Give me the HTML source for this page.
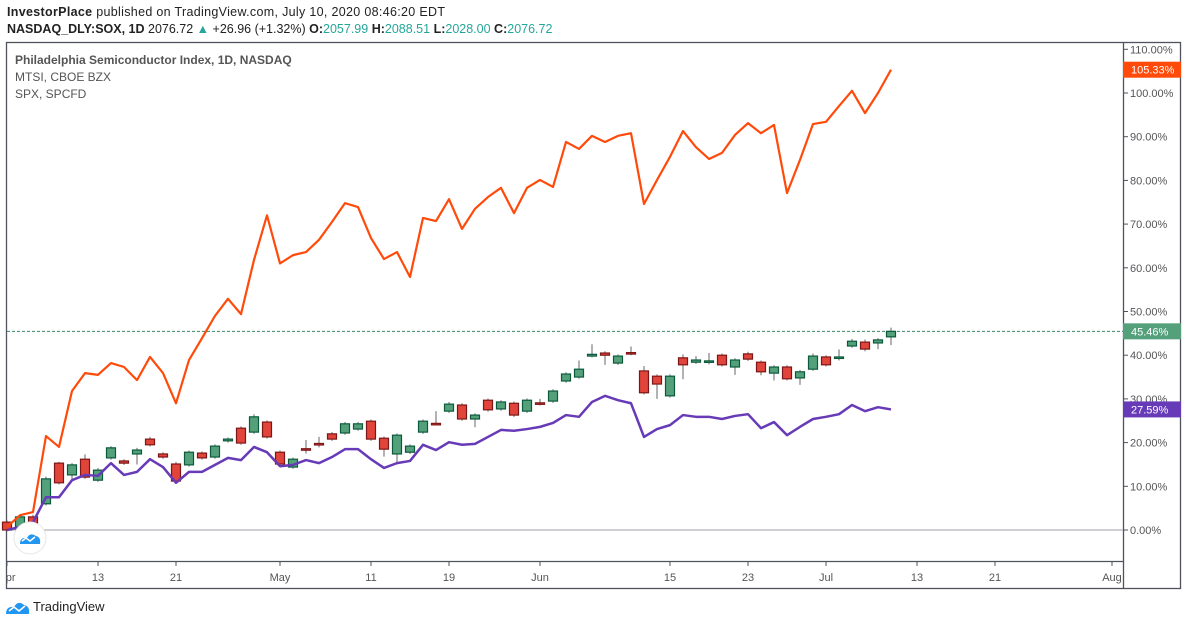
<!DOCTYPE html>
<html><head><meta charset="utf-8">
<style>
body{margin:0;background:#fff;width:1188px;height:625px;overflow:hidden;font-family:"Liberation Sans",sans-serif}
svg text{font-family:"Liberation Sans",sans-serif}
</style></head>
<body>
<svg id="chart" width="1188" height="625" xmlns="http://www.w3.org/2000/svg">
  <defs><clipPath id="xclip"><rect x="7" y="560" width="1116" height="28"/></clipPath></defs>
  <text x="7" y="16" font-size="12.5" fill="#222" textLength="438"><tspan font-weight="bold">InvestorPlace</tspan> published on TradingView.com, July 10, 2020 08:46:20 EDT</text>
  <text x="7" y="33" font-size="12.5" fill="#222"><tspan font-weight="bold">NASDAQ_DLY:SOX, 1D</tspan> 2076.72 <tspan fill="#26a69a">▲</tspan> +26.96 (+1.32%) <tspan font-weight="bold">O:</tspan><tspan fill="#26a69a">2057.99</tspan> <tspan font-weight="bold">H:</tspan><tspan fill="#26a69a">2088.51</tspan> <tspan font-weight="bold">L:</tspan><tspan fill="#26a69a">2028.00</tspan> <tspan font-weight="bold">C:</tspan><tspan fill="#26a69a">2076.72</tspan></text>
  <rect x="6.5" y="42.5" width="1174" height="546" fill="none" stroke="#50535e" stroke-width="1.3"/>
  <line x1="1123.5" y1="42" x2="1123.5" y2="589" stroke="#50535e" stroke-width="1.3"/>
  <line x1="6" y1="561.5" x2="1123" y2="561.5" stroke="#50535e" stroke-width="1.3"/>
  <g id="plot"></g>
  <g id="axes"></g>
  <g id="xaxis" clip-path="url(#xclip)"></g>
  <text x="15" y="64" font-size="12" font-weight="bold" fill="#555">Philadelphia Semiconductor Index, 1D, NASDAQ</text>
  <text x="15" y="81" font-size="12" fill="#555">MTSI, CBOE BZX</text>
  <text x="15" y="98" font-size="12" fill="#555">SPX, SPCFD</text>
  <g>
    <circle cx="30" cy="538" r="16" fill="#fff" stroke="#e6e6e6"/>
    <path d="M20 544 q0-7 7-6 q3-6 9-2 q5 1 4 8 z" fill="#2196f3"/>
    <path d="M22 541 l4-3 l4 3 l5-4" fill="none" stroke="#fff" stroke-width="1.5"/>
  </g>
  <g>
    <path d="M6 614 q0-8 8-7 q4-7 10-2 q6 1 5 9 z" fill="#2196f3"/>
    <path d="M9 611 l5-4 l5 4 l6-5" fill="none" stroke="#fff" stroke-width="1.6"/>
    <text x="33" y="611" font-size="13" fill="#222">TradingView</text>
  </g>
</svg>
<script>
const sox_open  = [1.8,0.2,3,6,15.3,12.6,16.2,11.4,16.5,15.8,17.4,20.8,17.4,15.1,14.9,17.6,16.7,20.4,23.3,22.4,24.7,17.8,14.4,18.6,19.8,22,22.2,23.1,24.9,21,17.4,17.8,22.4,24.4,27.2,28.6,25.4,29.7,27.7,29,27.2,29.1,29.5,34.1,35,39.8,40.5,38.2,40.6,36.4,35.2,30.7,39.4,38.4,38.6,40,37.3,40.3,38.4,35.9,37.3,34.8,36.8,39.6,39.5,42.1,43,42.8,44.2];
const sox_close = [0,3,1.6,11.7,10.8,14.9,12.1,13.7,18.8,15.3,18.3,19.5,16.7,11.2,17.8,16.5,19.2,20.8,19.9,25.9,21.3,15.1,16.2,18.3,19.6,20.8,24.3,24.3,20.8,18.5,21.7,19.2,24.9,24.3,28.8,25.4,26.3,27.5,29.3,26.3,29.7,29,31.8,35.7,36.8,40.2,40,39.8,40.4,31.4,33.4,35.2,37.8,38.9,38.7,37.8,38.9,39.1,36.2,37.3,34.6,36.2,39.8,37.8,39.6,43.2,41.4,43.5,45.46];
const sox_high  = [2.2,3.5,3.5,12.2,15.6,15.3,17.3,14.2,19.2,16.2,18.8,21.3,17.8,15.6,18.2,18,19.6,21.2,23.7,26.5,25.1,18.2,16.6,20.6,21.3,22.4,24.7,24.7,25.3,21.4,22.1,19.6,25.3,27.2,29.3,29,26.7,30.1,29.7,29.4,30.1,30,32.2,36.1,38.8,42.5,40.9,40.2,42,37.5,35.6,35.6,40.2,39.8,40.5,40.4,39.3,40.8,38.8,37.7,37.7,36.6,40.4,40,41.3,43.7,43.6,43.9,46.3];
const sox_low   = [-0.3,-0.2,1.2,5.6,10.4,11.5,11.7,11,16.1,14.9,15,19.1,16.3,10.6,14.5,16.1,16.3,20,19.5,22,20.9,14.7,14,17.5,18.9,20.4,21.8,22.7,20.4,16.8,15.5,17.4,22,24,26.8,25,23.5,27.1,27.3,25.9,26.8,28.5,29.1,33.7,34.6,39.5,37.8,37.8,40,31,30,30.3,34.5,38,37.9,37.4,35.5,38.7,35.4,34.2,34.2,33.2,36.4,37.4,38.8,41.7,40.9,41.4,42.3];
const mtsi = [0.7,3.4,4.1,21.5,19,31.8,35.9,35.5,38.2,37.3,34.3,39.6,35.9,29,38.9,43.9,49,52.9,49.4,61.8,72,61,62.9,63.6,66.4,70.5,74.8,73.9,66.8,62,63.6,57.9,71.4,70.7,75.7,68.9,73.5,76.2,78.3,72.5,78.3,80.1,78.5,88.8,87.2,90.2,88.8,90.2,90.8,74.6,80.1,85.4,91.3,87.6,84.9,86.3,90.4,93.1,90.8,92.7,77.1,84.7,92.9,93.4,97,100.5,95.4,100,105.33];
const spx = [0,0.7,1.8,7.5,7.5,11.4,12.6,12.4,15.3,12.6,13.3,16.2,14.4,10.8,13.3,13.3,14.9,16.5,16,19,17.8,14.6,14.9,16,15.3,16.7,18.5,18.5,16.2,14.2,15.3,15.8,19.5,18.3,20.1,19.5,19.7,21.3,22.9,22.7,23.1,23.6,24.5,26.3,25.9,29.3,30.7,29.7,29,21.3,23.1,24,26.3,25.9,25.9,25.4,26.1,26.5,23.3,24.7,21.7,23.6,25.4,25.9,26.5,28.6,27.2,28.1,27.59];
const yTicks = [0,10,20,30,40,50,60,70,80,90,100,110];
const xTickLabels = ["Apr","13","21","May","11","19","Jun","15","23","Jul","13","21","Aug"];
const xTickIndex = [0,7,13,21,28,34,41,51,57,63,70,76,85];

const NS="http://www.w3.org/2000/svg";
const X = i => 7 + i*13;
const Y = p => 530 - p*4.37;
const plot = document.getElementById('plot');
const axes = document.getElementById('axes');
const xaxis = document.getElementById('xaxis');
function mk(tag, attrs, parent){const e=document.createElementNS(NS,tag);for(const k in attrs)e.setAttribute(k,attrs[k]);parent.appendChild(e);return e;}

let zl = mk('line',{x1:7,x2:1123,y1:Y(0),y2:Y(0),stroke:'#b2b5be','stroke-width':1.2},plot);


const lastC = sox_close[sox_close.length-1];
let pl = mk('line',{x1:7,x2:1123,y1:Y(lastC),y2:Y(lastC),stroke:'#3d8a64','stroke-width':1,'stroke-dasharray':'3,2'},plot);



for(let i=0;i<sox_open.length;i++){
  const o=sox_open[i],c=sox_close[i],up=c>=o;
  const g=mk('g',{},plot);
  
  
  mk('line',{x1:X(i),x2:X(i),y1:Y(sox_high[i]),y2:Y(sox_low[i]),stroke:'#666','stroke-width':1},g);
  const top=Y(Math.max(o,c)),bot=Y(Math.min(o,c));
  mk('rect',{x:X(i)-4.5,y:top,width:9,height:Math.max(bot-top,1.5),fill:up?'#53a07a':'#e0443a',stroke:up?'#0b5a3c':'#7d1616','stroke-width':1.2},g);
}
function line(arr,color,w,name){
  const d=arr.map((v,i)=>(i?'L':'M')+X(i)+' '+Y(v)).join(' ');
  const p=mk('path',{d:d,fill:'none',stroke:color,'stroke-width':w,'stroke-linejoin':'round'},plot);
  
  
}
line(spx,'#673ab7',2.5,'spx-line');
line(mtsi,'#ff4a0a',2.2,'mtsi-line');

yTicks.forEach(t=>{
  const y=Y(t);
  mk('line',{x1:1123,x2:1128,y1:y,y2:y,stroke:'#50535e'},axes);
  const tx=mk('text',{x:1130,y:y+4,'font-size':11,fill:'#555'},axes);
  tx.textContent=t.toFixed(2)+'%';
  
  
});
xTickLabels.forEach((l,k)=>{
  const x=X(xTickIndex[k]);
  mk('line',{x1:x,x2:x,y1:561,y2:566,stroke:'#50535e'},xaxis);
  const tx=mk('text',{x:x,y:581,'font-size':11,fill:'#555','text-anchor':'middle'},xaxis);
  tx.textContent=l;
  
  
});
function badge(v,color,name){
  const y=Y(v);
  const g=mk('g',{},axes);
  
  
  mk('rect',{x:1123,y:y-8,width:58,height:16,fill:color},g);
  const t=mk('text',{x:1131,y:y+4,'font-size':11,fill:'#fff'},g);
  t.textContent=v.toFixed(2)+'%';
}
badge(mtsi[mtsi.length-1],'#ff4a0a','mtsi-price-badge');
badge(lastC,'#53a07a','sox-price-badge');
badge(spx[spx.length-1],'#673ab7','spx-price-badge');
</script>
</body></html>
